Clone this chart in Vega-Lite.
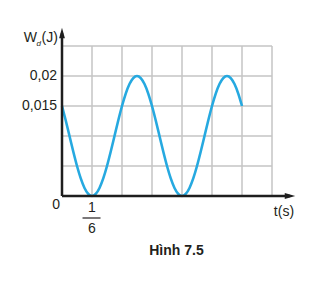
{
  "$schema": "https://vega.github.io/schema/vega-lite/v6.json",
  "width": 234,
  "height": 168,
  "autosize": {"type": "none"},
  "padding": {"left": 62, "top": 28, "right": 24, "bottom": 86},
  "background": "white",
  "config": {"view": {"stroke": null}, "text": {"font": "Liberation Sans", "color": "#231f20"}},
  "datasets": {
    "curve": [
      {"t": 0, "w": 0.015}, {"t": 0.020833, "w": 0.012588}, {"t": 0.041667, "w": 0.01}, {"t": 0.0625, "w": 0.007412},
      {"t": 0.083333, "w": 0.005}, {"t": 0.104167, "w": 0.002929}, {"t": 0.125, "w": 0.00134}, {"t": 0.145833, "w": 0.000341},
      {"t": 0.166667, "w": 0}, {"t": 0.1875, "w": 0.000341}, {"t": 0.208333, "w": 0.00134}, {"t": 0.229167, "w": 0.002929},
      {"t": 0.25, "w": 0.005}, {"t": 0.270833, "w": 0.007412}, {"t": 0.291667, "w": 0.01}, {"t": 0.3125, "w": 0.012588},
      {"t": 0.333333, "w": 0.015}, {"t": 0.354167, "w": 0.017071}, {"t": 0.375, "w": 0.01866}, {"t": 0.395833, "w": 0.019659},
      {"t": 0.416667, "w": 0.02}, {"t": 0.4375, "w": 0.019659}, {"t": 0.458333, "w": 0.01866}, {"t": 0.479167, "w": 0.017071},
      {"t": 0.5, "w": 0.015}, {"t": 0.520833, "w": 0.012588}, {"t": 0.541667, "w": 0.01}, {"t": 0.5625, "w": 0.007412},
      {"t": 0.583333, "w": 0.005}, {"t": 0.604167, "w": 0.002929}, {"t": 0.625, "w": 0.00134}, {"t": 0.645833, "w": 0.000341},
      {"t": 0.666667, "w": 0}, {"t": 0.6875, "w": 0.000341}, {"t": 0.708333, "w": 0.00134}, {"t": 0.729167, "w": 0.002929},
      {"t": 0.75, "w": 0.005}, {"t": 0.770833, "w": 0.007412}, {"t": 0.791667, "w": 0.01}, {"t": 0.8125, "w": 0.012588},
      {"t": 0.833333, "w": 0.015}, {"t": 0.854167, "w": 0.017071}, {"t": 0.875, "w": 0.01866}, {"t": 0.895833, "w": 0.019659},
      {"t": 0.916667, "w": 0.02}, {"t": 0.9375, "w": 0.019659}, {"t": 0.958333, "w": 0.01866}, {"t": 0.979167, "w": 0.017071},
      {"t": 1.0, "w": 0.015}
    ],
    "vgrid": [
      {"t": 0.166667, "w0": 0, "w1": 0.025}, {"t": 0.333333, "w0": 0, "w1": 0.025}, {"t": 0.5, "w0": 0, "w1": 0.025},
      {"t": 0.666667, "w0": 0, "w1": 0.025}, {"t": 0.833333, "w0": 0, "w1": 0.025}, {"t": 1.0, "w0": 0, "w1": 0.025},
      {"t": 1.166667, "w0": 0, "w1": 0.025}
    ],
    "hgrid": [
      {"w": 0.005, "t0": 0, "t1": 1.166667}, {"w": 0.01, "t0": 0, "t1": 1.166667}, {"w": 0.015, "t0": 0, "t1": 1.166667},
      {"w": 0.02, "t0": 0, "t1": 1.166667}, {"w": 0.025, "t0": 0, "t1": 1.166667}
    ],
    "xaxis": [{"t0": 0, "t1": 1.2667, "w": 0}],
    "yaxis": [{"t": 0, "w0": 0, "w1": 0.02717}],
    "xarrow": [{"t": 1.2667, "w": 0}],
    "yarrow": [{"t": 0, "w": 0.02717}],
    "ylabels": [{"t": 0, "w": 0.02, "label": "0,02"}, {"t": 0, "w": 0.015, "label": "0,015"}],
    "origin": [{"t": 0, "w": 0, "label": "0"}],
    "num": [{"t": 0.166667, "w": 0, "label": "1"}],
    "den": [{"t": 0.166667, "w": 0, "label": "6"}],
    "bar": [{"t0": 0.114, "t1": 0.214, "w": 0}],
    "xtitle": [{"t": 1.233, "w": 0, "label": "t(s)"}],
    "ytitleW": [{"t": 0, "w": 0.025, "label": "W"}],
    "ytitleD": [{"t": 0, "w": 0.025, "label": "d"}],
    "ytitleJ": [{"t": 0, "w": 0.025, "label": "(J)"}],
    "caption": [{"t": 0.636, "w": 0, "label": "Hình 7.5"}]
  },
  "layer": [
    {
      "data": {"name": "vgrid"},
      "mark": {"type": "rule", "color": "#c4c4c4", "strokeWidth": 1.5},
      "encoding": {
        "x": {"field": "t", "type": "quantitative", "scale": {"domain": [0, 1.3]}, "axis": null},
        "y": {"field": "w0", "type": "quantitative", "scale": {"domain": [0, 0.028]}, "axis": null},
        "y2": {"field": "w1"}
      }
    },
    {
      "data": {"name": "hgrid"},
      "mark": {"type": "rule", "color": "#c4c4c4", "strokeWidth": 1.5},
      "encoding": {
        "y": {"field": "w", "type": "quantitative"},
        "x": {"field": "t0", "type": "quantitative"},
        "x2": {"field": "t1"}
      }
    },
    {
      "data": {"name": "curve"},
      "mark": {"type": "line", "color": "#26a9e0", "strokeWidth": 2.6, "interpolate": "monotone"},
      "encoding": {
        "x": {"field": "t", "type": "quantitative"},
        "y": {"field": "w", "type": "quantitative"}
      }
    },
    {
      "data": {"name": "xaxis"},
      "mark": {"type": "rule", "color": "#1e1e1e", "strokeWidth": 2.5},
      "encoding": {
        "y": {"field": "w", "type": "quantitative"},
        "x": {"field": "t0", "type": "quantitative"},
        "x2": {"field": "t1"}
      }
    },
    {
      "data": {"name": "yaxis"},
      "mark": {"type": "rule", "color": "#1e1e1e", "strokeWidth": 2.5},
      "encoding": {
        "x": {"field": "t", "type": "quantitative"},
        "y": {"field": "w0", "type": "quantitative"},
        "y2": {"field": "w1"}
      }
    },
    {
      "data": {"name": "xarrow"},
      "mark": {"type": "point", "shape": "M-1,-0.55L1,0L-1,0.55Z", "size": 110, "filled": true, "color": "#1e1e1e", "opacity": 1},
      "encoding": {
        "x": {"field": "t", "type": "quantitative"},
        "y": {"field": "w", "type": "quantitative"}
      }
    },
    {
      "data": {"name": "yarrow"},
      "mark": {"type": "point", "shape": "M-0.55,1L0,-1L0.55,1Z", "size": 110, "filled": true, "color": "#1e1e1e", "opacity": 1},
      "encoding": {
        "x": {"field": "t", "type": "quantitative"},
        "y": {"field": "w", "type": "quantitative"}
      }
    },
    {
      "data": {"name": "ylabels"},
      "mark": {"type": "text", "align": "right", "baseline": "middle", "dx": -5, "fontSize": 14},
      "encoding": {
        "x": {"field": "t", "type": "quantitative"},
        "y": {"field": "w", "type": "quantitative"},
        "text": {"field": "label"}
      }
    },
    {
      "data": {"name": "origin"},
      "mark": {"type": "text", "align": "right", "baseline": "middle", "dx": -2, "dy": 9, "fontSize": 14},
      "encoding": {
        "x": {"field": "t", "type": "quantitative"},
        "y": {"field": "w", "type": "quantitative"},
        "text": {"field": "label"}
      }
    },
    {
      "data": {"name": "num"},
      "mark": {"type": "text", "align": "center", "baseline": "middle", "dy": 12, "fontSize": 14},
      "encoding": {
        "x": {"field": "t", "type": "quantitative"},
        "y": {"field": "w", "type": "quantitative"},
        "text": {"field": "label"}
      }
    },
    {
      "data": {"name": "den"},
      "mark": {"type": "text", "align": "center", "baseline": "middle", "dy": 33, "fontSize": 14},
      "encoding": {
        "x": {"field": "t", "type": "quantitative"},
        "y": {"field": "w", "type": "quantitative"},
        "text": {"field": "label"}
      }
    },
    {
      "data": {"name": "bar"},
      "mark": {"type": "rule", "color": "#231f20", "strokeWidth": 1.2, "yOffset": 22},
      "encoding": {
        "y": {"field": "w", "type": "quantitative"},
        "x": {"field": "t0", "type": "quantitative"},
        "x2": {"field": "t1"}
      }
    },
    {
      "data": {"name": "xtitle"},
      "mark": {"type": "text", "align": "center", "baseline": "middle", "dy": 16, "fontSize": 14},
      "encoding": {
        "x": {"field": "t", "type": "quantitative"},
        "y": {"field": "w", "type": "quantitative"},
        "text": {"field": "label"}
      }
    },
    {
      "data": {"name": "ytitleW"},
      "mark": {"type": "text", "align": "right", "baseline": "alphabetic", "dx": -25, "dy": -4, "fontSize": 14},
      "encoding": {
        "x": {"field": "t", "type": "quantitative"},
        "y": {"field": "w", "type": "quantitative"},
        "text": {"field": "label"}
      }
    },
    {
      "data": {"name": "ytitleD"},
      "mark": {"type": "text", "align": "left", "baseline": "alphabetic", "dx": -25.5, "dy": 0, "fontSize": 8, "fontStyle": "italic"},
      "encoding": {
        "x": {"field": "t", "type": "quantitative"},
        "y": {"field": "w", "type": "quantitative"},
        "text": {"field": "label"}
      }
    },
    {
      "data": {"name": "ytitleJ"},
      "mark": {"type": "text", "align": "left", "baseline": "alphabetic", "dx": -20.5, "dy": -4, "fontSize": 14},
      "encoding": {
        "x": {"field": "t", "type": "quantitative"},
        "y": {"field": "w", "type": "quantitative"},
        "text": {"field": "label"}
      }
    },
    {
      "data": {"name": "caption"},
      "mark": {"type": "text", "align": "center", "baseline": "middle", "dy": 55, "fontSize": 14, "fontWeight": "bold"},
      "encoding": {
        "x": {"field": "t", "type": "quantitative"},
        "y": {"field": "w", "type": "quantitative"},
        "text": {"field": "label"}
      }
    }
  ]
}
